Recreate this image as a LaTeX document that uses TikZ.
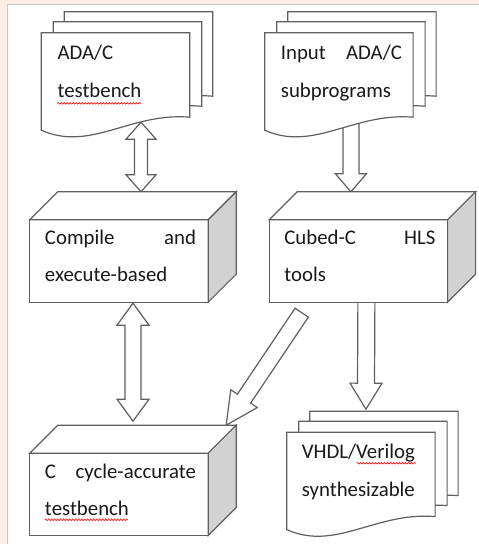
\documentclass[tikz,border=0pt]{standalone}
\usepackage{fontspec}
\setmainfont{Carlito}
\usetikzlibrary{positioning,calc,decorations.pathmorphing}

\definecolor{peach}{RGB}{252,237,227}
\definecolor{framegray}{RGB}{200,200,200}
\definecolor{linegray}{RGB}{95,95,95}
\definecolor{sidegray}{RGB}{210,210,210}

% block arrows: #1 from, #2 to, #3 half shaft, #4 half head, #5 head length
\newcommand\sglarrow[5]{%
  \coordinate (aA) at #1; \coordinate (aB) at #2;
  \coordinate (aH) at ($(aB)!#5!(aA)$);
  \draw[blockarrow] ($(aA)!#3!90:(aB)$) -- ($(aH)!#3!90:(aB)$) -- ($(aH)!#4!90:(aB)$) -- (aB)
    -- ($(aH)!#4!-90:(aB)$) -- ($(aH)!#3!-90:(aB)$) -- ($(aA)!#3!-90:(aB)$) -- cycle;}
\newcommand\dblarrow[5]{%
  \coordinate (aA) at #1; \coordinate (aB) at #2;
  \coordinate (aH) at ($(aA)!#5!(aB)$); \coordinate (aK) at ($(aB)!#5!(aA)$);
  \draw[blockarrow] (aA) -- ($(aH)!#4!90:(aB)$) -- ($(aH)!#3!90:(aB)$) -- ($(aK)!#3!90:(aB)$)
    -- ($(aK)!#4!90:(aB)$) -- (aB) -- ($(aK)!#4!-90:(aB)$) -- ($(aK)!#3!-90:(aB)$)
    -- ($(aH)!#3!-90:(aB)$) -- ($(aH)!#4!-90:(aB)$) -- cycle;}
% one sheet of a document stack
\newcommand\sheet[2]{%
  \draw[sheet] ([shift={#2}]#1.north west) -- ([shift={#2}]#1.north east)
    -- ([shift={#2},yshift=13pt]#1.south east)
    .. controls ([shift={#2},xshift=89pt,yshift=18pt]#1.south west)
    and ([shift={#2},xshift=49pt,yshift=-22pt]#1.south west) .. ([shift={#2}]#1.south west) -- cycle;}
\newcommand\docstack[1]{\sheet{#1}{(23,21)}\sheet{#1}{(12,11)}\sheet{#1}{(0,0)}}
\newcommand\cube[1]{%
  \draw[boxface] (#1.south west) rectangle (#1.north east);
  \draw[boxface] (#1.north west) -- ([shift={(28,28)}]#1.north west)
    -- ([shift={(28,28)}]#1.north east) -- (#1.north east) -- cycle;
  \draw[boxface, fill=sidegray] (#1.north east) -- ([shift={(28,28)}]#1.north east)
    -- ([shift={(28,28)}]#1.south east) -- (#1.south east) -- cycle;}

\begin{document}
\begin{tikzpicture}[x=1pt,y=1pt,line join=miter,
                    every node/.style={inner sep=0}]
  \tikzstyle{docnode}=[rectangle, minimum width=148pt, minimum height=97pt]
  \tikzstyle{cubenode}=[rectangle, minimum width=178pt, minimum height=82pt]
  \tikzstyle{sheet}=[draw=linegray, fill=white, line width=1.2pt]
  \tikzstyle{boxface}=[draw=linegray, fill=white, line width=1.2pt]
  \tikzstyle{blockarrow}=[draw=linegray, fill=white, line width=1.2pt]
  \tikzstyle{boxtext}=[anchor=north west, text width=151pt, align=justify,
                       font=\fontsize{20.8}{37}\selectfont, text=black!90]
  \tikzstyle{doctext}=[anchor=north west, text width=121pt, align=justify,
                       font=\fontsize{20.8}{38}\selectfont, text=black!90]
  \tikzstyle{squiggle}=[draw=red!90!white, line width=0.7pt, decorate,
                        decoration={snake, amplitude=0.8pt, segment length=3pt}]

  \useasboundingbox (0,0) rectangle (479,544);
  \fill[peach] (0,0) rectangle (479,544);
  \fill[white] (7,0) rectangle (479,540);
  \draw[framegray, line width=0.8pt] (7,0) -- (7,540) -- (479,540);

  \node[docnode]  (tb)  at (115.5,462.5)                  {};
  \node[docnode]  (inp) [right=75pt of tb]                {};
  \node[cubenode] (cmp) at (119,283)                      {};
  \node[cubenode] (hls) [right=61pt of cmp]               {};
  \node[cubenode] (cyc) [below=151pt of cmp]              {};
  \node[docnode]  (hdl) [below=130pt of hls, xshift=2.5pt] {};

  \dblarrow{($(tb.south)+(25.5,8)$)}{($(cmp.north)+(22,28)$)}{6.5pt}{15pt}{17pt}
  \sglarrow{($(inp.south)+(12,10)$)}{($(hls.north)+(-7.5,28)$)}{8pt}{15.5pt}{18pt}
  \dblarrow{($(cmp.south)+(14,-1)$)}{($(cyc.north)+(14,32)$)}{8pt}{16pt}{22pt}
  \sglarrow{($(hls.south west)+(32.5,-10.5)$)}{($(cyc.north east)+(18,28)$)}{8pt}{16pt}{32pt}
  \sglarrow{($(hls.south)+(8,2)$)}{($(hdl.north)+(5,23)$)}{8.5pt}{16pt}{26pt}

  \docstack{tb}
  \docstack{inp}
  \docstack{hdl}
  \cube{cmp}
  \cube{hls}
  \cube{cyc}

  \node[doctext] (tbtext)  [below right=11pt and 16pt of tb.north west]
    {\rule{0pt}{16pt}ADA/C\\testbench};
  \node[doctext] (inptext) [below right=11pt and 16pt of inp.north west]
    {\rule{0pt}{16pt}Input\hfill ADA/C\\subprograms};
  \node[doctext] (hdltext) [below right=10pt and 15pt of hdl.north west]
    {\rule{0pt}{16pt}VHDL/Verilog\\synthesizable};
  \node[boxtext] (cmptext) [below right=9pt and 15pt of cmp.north west]
    {\rule{0pt}{16pt}Compile\hfill and\\execute-based};
  \node[boxtext] (hlstext) [below right=9pt and 15pt of hls.north west]
    {\rule{0pt}{16pt}Cubed-C\hfill HLS\\tools};
  \node[boxtext] (cyctext) [below right=9pt and 15pt of cyc.north west]
    {\rule{0pt}{16pt}C\hfill cycle-accurate\\testbench};

  \draw[squiggle] ([yshift=-5pt]tbtext.south west) -- ++(84,0);
  \draw[squiggle] ([yshift=-4pt]cyctext.south west) -- ++(83,0);
  \draw[squiggle] ([xshift=55pt,yshift=-21pt]hdltext.north west) -- ++(59,0);
\end{tikzpicture}
\end{document}
